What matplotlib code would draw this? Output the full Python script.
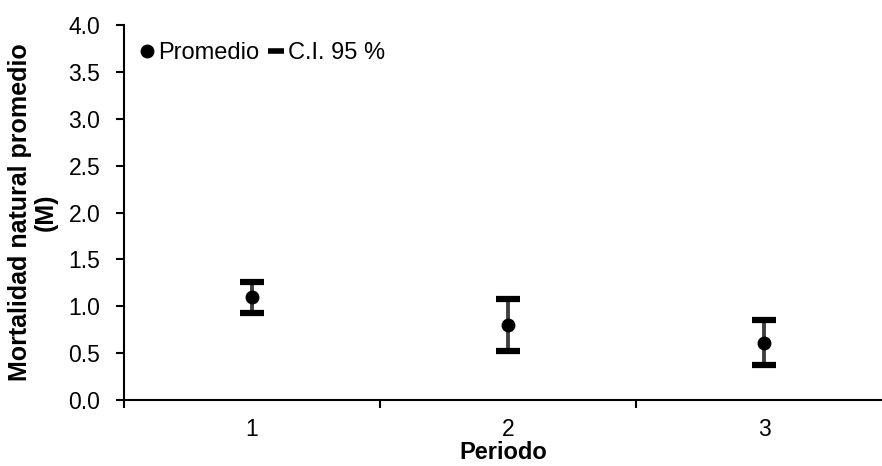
import matplotlib as mpl
mpl.use('Agg')
import matplotlib.pyplot as plt
from matplotlib.lines import Line2D

plt.rcParams['font.family'] = ['Liberation Sans', 'DejaVu Sans']

periodos = [1, 2, 3]
promedio = [1.10, 0.80, 0.61]
ic_sup = [1.26, 1.08, 0.85]
ic_inf = [0.93, 0.52, 0.37]

fig = plt.figure(figsize=(8.82, 4.66), dpi=100)
ax = fig.add_axes([124 / 882, 1 - 400 / 466, 758 / 882, 375 / 466])

err_lo = [p - l for p, l in zip(promedio, ic_inf)]
err_hi = [h - p for p, h in zip(promedio, ic_sup)]
ax.errorbar(periodos, promedio, yerr=[err_lo, err_hi], fmt='none',
            ecolor='#404040', elinewidth=2.8, capsize=0, zorder=2)
# caps drawn as short thick lines
ax.plot(periodos, ic_sup, linestyle='none', marker='_', markersize=17,
        markeredgewidth=4.5, color='black', zorder=3)
ax.plot(periodos, ic_inf, linestyle='none', marker='_', markersize=17,
        markeredgewidth=4.5, color='black', zorder=3)
ax.plot(periodos, promedio, linestyle='none', marker='o', markersize=9,
        color='black', zorder=4)

ax.set_xlim(0.5, 3.46)
ax.set_ylim(0, 4.0)
ax.set_yticks([i * 0.5 for i in range(9)])
ax.set_yticklabels(['%.1f' % (i * 0.5) for i in range(9)])
ax.set_xticks([0.5, 1.5, 2.5])
ax.set_xticklabels([])
ax.set_xticks(periodos, minor=True)
ax.set_xticklabels(['1', '2', '3'], minor=True)
ax.tick_params(axis='x', which='minor', length=0, labelsize=16.5, pad=13)
ax.tick_params(axis='x', which='major', length=6, width=1.5, direction='out')
ax.tick_params(axis='y', length=6, width=1.5, direction='out', labelsize=16.5, pad=11)

for s in ['top', 'right']:
    ax.spines[s].set_visible(False)
for s in ['left', 'bottom']:
    ax.spines[s].set_linewidth(1.5)

ax.set_xlabel('Periodo', fontsize=17, fontweight='bold', labelpad=0)
ax.set_ylabel('Mortalidad natural promedio\n(M)', fontsize=18,
              fontweight='bold', labelpad=8, linespacing=1.05)

handles = [
    Line2D([], [], linestyle='none', marker='o', markersize=9, color='black'),
    Line2D([], [], linestyle='none', marker='_', markersize=12,
           markeredgewidth=4, color='black'),
]
ax.legend(handles, ['Promedio', 'C.I. 95 %'], loc='center left', ncol=2,
          frameon=False, fontsize=17, handlelength=0.5, handletextpad=0.25,
          columnspacing=0.45, borderpad=0, borderaxespad=0,
          bbox_to_anchor=(0.022, 0.925))

fig.savefig('out.png', dpi=100)
